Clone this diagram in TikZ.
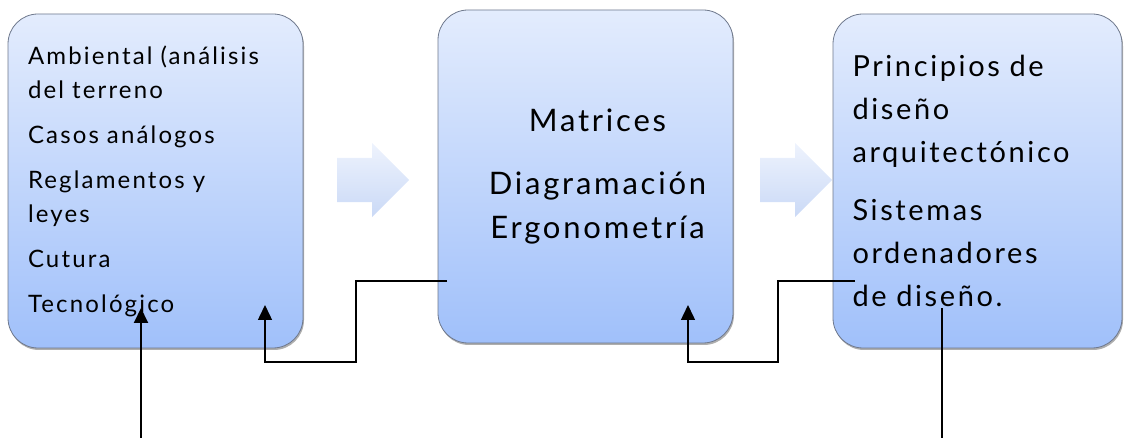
\documentclass[tikz,border=0pt]{standalone}
\usepackage{fontspec}
\setmainfont{Lato}[LetterSpace=9]
\usetikzlibrary{shapes.arrows,arrows.meta,positioning,shadows}
\definecolor{boxtop}{RGB}{227,236,253}
\definecolor{boxbot}{RGB}{160,192,250}
\definecolor{arrtop}{RGB}{238,243,253}
\definecolor{arrbot}{RGB}{202,217,246}
\definecolor{boxedge}{RGB}{110,120,140}

\begin{document}
\begin{tikzpicture}[x=1pt,y=-1pt,
      stage/.style={draw=boxedge,line width=0.8pt,rounded corners=30pt,
        top color=boxtop,bottom color=boxbot,
        drop shadow={shadow xshift=1pt,shadow yshift=-2pt,opacity=.45,fill=black!70},
        minimum height=334pt,inner sep=0pt},
      flow/.style={single arrow,single arrow head extend=15pt,minimum height=72pt,
        inner xsep=0pt,inner ysep=22pt,top color=arrtop,bottom color=arrbot,draw=none,
        anchor=tail},
      link/.style={line width=1.5pt,-{Triangle[length=15pt,width=14pt]}},
      plain/.style={line width=1.5pt}]
    \useasboundingbox (0,0) rectangle (1125,438);
    \node[stage,minimum width=295pt,text width=255pt,align=left,
      font=\fontsize{24}{34}\selectfont](amb) at (155.5,181)
      {Ambiental (análisis\\del terreno\\[11pt]Casos análogos\\[11pt]Reglamentos y\\leyes\\[11pt]Cutura\\[11pt]Tecnológico};
    \node[stage,minimum width=295pt,minimum height=333pt,align=center,
      font=\fontsize{31}{44}\selectfont](mat) at (585.5,176.5)
      {\hspace*{24pt}Matrices\\[19pt]\hspace*{24pt}Diagramación\\\hspace*{24pt}Ergonometría};
    \node[stage,minimum width=289pt,text width=250pt,align=left,
      font=\fontsize{29}{43}\selectfont](pri) at (977.5,181)
      {Principios de\\diseño\\arquitectónico\\[15pt]Sistemas\\ordenadores\\de diseño.};
    \node[flow](f1) at (337,180){};
    \node[flow](f2) at (760,180){};
    % feedback links
    \coordinate (matOut) at (447,281);
    \coordinate (ambIn) at (265,305);
    \coordinate (priOut) at (855,281);
    \coordinate (matIn) at (688,305);
    \draw[link](matOut)--(356,281)--(356,362)--(265,362)--(ambIn);
    \draw[link](priOut)--(778,281)--(778,362)--(688,362)--(matIn);
    % lines from below
    \coordinate (srcA) at (141,438);
    \coordinate (tipA) at (141,308);
    \coordinate (srcP) at (942,438);
    \coordinate (endP) at (942,308);
    \draw[link,line width=2pt](srcA)--(tipA);
    \draw[plain,line width=2pt](srcP)--(endP);
\end{tikzpicture}
\end{document}
